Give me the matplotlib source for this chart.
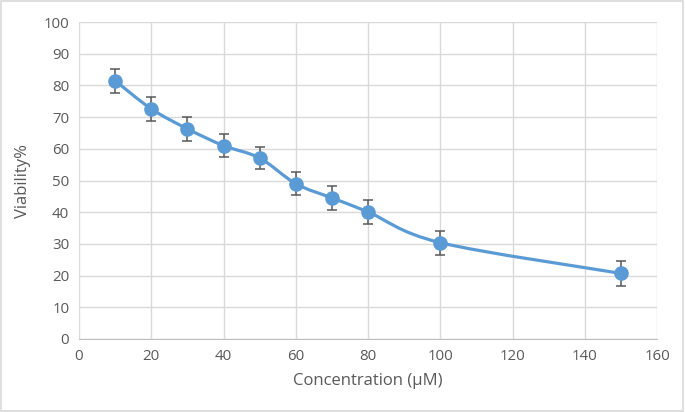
import numpy as np
import matplotlib
matplotlib.use("Agg")
import matplotlib.pyplot as plt
from matplotlib.path import Path
from matplotlib.patches import PathPatch, Rectangle

# data
concentration = [10, 20, 30, 40, 50, 60, 70, 80, 100, 150]
viability = [81.5, 72.6, 66.3, 61.0, 57.1, 49.0, 44.5, 40.1, 30.4, 20.7]
err = [3.8, 3.7, 3.8, 3.7, 3.6, 3.7, 3.8, 3.8, 3.8, 3.9]
x_ticks = [0, 20, 40, 60, 80, 100, 120, 140, 160]
y_ticks = [0, 10, 20, 30, 40, 50, 60, 70, 80, 90, 100]

blue = "#5B9BD5"
grey_text = "#595959"
grid_col = "#D9D9D9"

plt.rcParams['font.family'] = ['Open Sans', 'DejaVu Sans']

fig = plt.figure(figsize=(6.85, 4.12), dpi=100)
ax = fig.add_axes([79 / 685, 73 / 412, 578 / 685, 317 / 412])


# Excel-like smoothed line: Catmull-Rom segments drawn as cubic Bezier path
def smooth_path(xs, ys, t=1 / 6):
    xs = np.asarray(xs, float)
    ys = np.asarray(ys, float)
    verts = [(xs[0], ys[0])]
    codes = [Path.MOVETO]
    n = len(xs)
    for i in range(n - 1):
        p0 = i - 1 if i > 0 else i
        p3 = i + 2 if i + 2 < n else i + 1
        c1 = (xs[i] + (xs[i + 1] - xs[p0]) * t, ys[i] + (ys[i + 1] - ys[p0]) * t)
        c2 = (xs[i + 1] - (xs[p3] - xs[i]) * t, ys[i + 1] - (ys[p3] - ys[i]) * t)
        verts += [c1, c2, (xs[i + 1], ys[i + 1])]
        codes += [Path.CURVE4] * 3
    return Path(verts, codes)


curve = PathPatch(smooth_path(concentration, viability), facecolor="none",
                  edgecolor=blue, lw=2.3, zorder=3, capstyle="round")
ax.add_patch(curve)

ax.errorbar(concentration, viability, yerr=err, fmt="none", ecolor=grey_text,
            elinewidth=1.1, capsize=3.5, capthick=1.1, zorder=4)
ax.plot(concentration, viability, "o", color=blue, markersize=9.5, zorder=5)

ax.set_xlim(0, 160)
ax.set_ylim(0, 100)
ax.set_xticks(x_ticks)
ax.set_yticks(y_ticks)
ax.grid(True, color=grid_col, lw=1)
ax.set_axisbelow(True)
for side in ["top", "right", "left"]:
    ax.spines[side].set_visible(False)
ax.spines["bottom"].set_color("#BFBFBF")
ax.tick_params(length=0, labelsize=10.8, labelcolor=grey_text, pad=7)

ax.set_xlabel("Concentration (µM)", fontsize=12, color=grey_text, labelpad=7)
ax.set_ylabel("Viability%", fontsize=12, color=grey_text, labelpad=9)

fig.patches.append(Rectangle((0.002, 0.003), 0.995, 0.994, transform=fig.transFigure,
                             fill=False, edgecolor="#D9D9D9", lw=1.2))

fig.savefig("out.png", dpi=100)
